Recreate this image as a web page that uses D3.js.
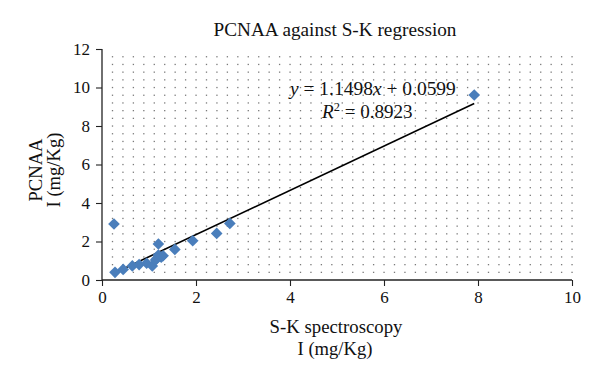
<!DOCTYPE html>
<html><head><meta charset="utf-8">
<script src="https://cdn.jsdelivr.net/npm/d3@7"></script>
<style>body{margin:0;background:#fff}svg{display:block}text{font-family:"Liberation Serif","Times New Roman",serif;fill:#111}</style>
</head><body><svg id="c" width="600" height="383"></svg>
<script>
const skValues = [0.255,0.277,0.45,0.645,0.79,0.95,1.07,1.14,1.2,1.2,1.26,1.30,1.17,1.55,1.93,2.44,2.72,7.92];
const pcnaaValues = [2.91,0.40,0.55,0.73,0.80,0.87,0.73,1.04,1.87,1.30,1.18,1.26,1.12,1.59,2.04,2.42,2.94,9.61];
const xTicks = [0,2,4,6,8,10];
const yTicks = [0,2,4,6,8,10,12];
const slope = 1.1498, intercept = 0.0599, r2 = 0.8923;
const titleText = "PCNAA against S-K regression";
const xLabel = ["S-K spectroscopy","I (mg/Kg)"];
const yLabel = ["PCNAA","I (mg/Kg)"];

const svg = d3.select("#c");
const L=102, R=572, T=49, B=280;
const x = d3.scaleLinear().domain([0,10]).range([L,R]);
const y = d3.scaleLinear().domain([0,12]).range([B,T]);

function fit(sel, base, target){
  sel.style("font-size", base+"px");
  const w = sel.node().getComputedTextLength();
  const s = base*target/w;
  sel.style("font-size", s+"px");
  sel.selectAll("tspan.sup").style("font-size",(s*0.65)+"px");
  return s;
}

// dotted background grid
const nx = 45, ny = 30;
const g = svg.append("g");
for (let i=1;i<=nx;i++) for (let j=1;j<ny;j++) {
  g.append("rect").attr("x", L + i*(R-L)/nx - 0.6).attr("y", B - j*(B-T)/ny - 0.6)
   .attr("width",1.3).attr("height",1.3).attr("fill","#7a7a7a");
}

// axes
const xa = svg.append("g").attr("transform",`translate(0,${B})`)
  .call(d3.axisBottom(x).tickValues(xTicks).tickSize(6).tickPadding(5).tickFormat(d3.format("d")));
const ya = svg.append("g").attr("transform",`translate(${L},0)`)
  .call(d3.axisLeft(y).tickValues(yTicks).tickSize(6).tickPadding(6).tickFormat(d3.format("d")));
[xa,ya].forEach(a=>{
  a.selectAll("path").attr("stroke","#222").attr("stroke-width",1.3);
  a.selectAll("line").attr("stroke","#222").attr("stroke-width",1.1);
  a.selectAll("text").style("font-family",'"Liberation Serif",serif').style("font-size","17px").attr("fill","#111");
});
xa.selectAll("path").attr("d",`M${L},0H${R}`);
ya.selectAll("path").attr("d",`M0,${B}V${T}`);

// regression line
const xmin = d3.min(skValues), xmax = d3.max(skValues);
svg.append("line").attr("x1",x(xmin)).attr("y1",y(slope*xmin+intercept))
  .attr("x2",x(xmax)).attr("y2",y(slope*xmax+intercept))
  .attr("stroke","#000").attr("stroke-width",1.6);

// points
const sym = d3.symbol().type(d3.symbolSquare).size(68);
svg.append("g").selectAll("path").data(skValues.map((v,i)=>[v,pcnaaValues[i]])).join("path")
  .attr("d",sym).attr("transform",d=>`translate(${x(d[0])},${y(d[1])}) rotate(45)`)
  .attr("fill","#4A7EBB");

// equation
const eq = svg.append("text").attr("x",290).attr("y",95);
eq.append("tspan").style("font-style","italic").text("y");
eq.append("tspan").text(` = ${slope}`);
eq.append("tspan").style("font-style","italic").text("x");
eq.append("tspan").text(` + ${intercept}`);
fit(eq, 18, 166);
const rt = svg.append("text").attr("x",322).attr("y",118);
rt.append("tspan").style("font-style","italic").text("R");
rt.append("tspan").attr("class","sup").attr("dy",-7).text("2");
rt.append("tspan").attr("dy",7).text(` = ${r2}`);
fit(rt, 18, 94);

// title
fit(svg.append("text").attr("x",335).attr("y",36).attr("text-anchor","middle").text(titleText), 18, 243);
// x label
fit(svg.append("text").attr("x",336).attr("y",333).attr("text-anchor","middle").text(xLabel[0]), 18, 133);
const labSize = fit(svg.append("text").attr("x",335).attr("y",355).attr("text-anchor","middle").text(xLabel[1]), 18, 75);
// y label
svg.append("text").attr("transform","translate(42,170) rotate(-90)").attr("text-anchor","middle").style("font-size",labSize+"px").text(yLabel[0]);
svg.append("text").attr("transform","translate(60,170) rotate(-90)").attr("text-anchor","middle").style("font-size",labSize+"px").text(yLabel[1]);
</script></body></html>
